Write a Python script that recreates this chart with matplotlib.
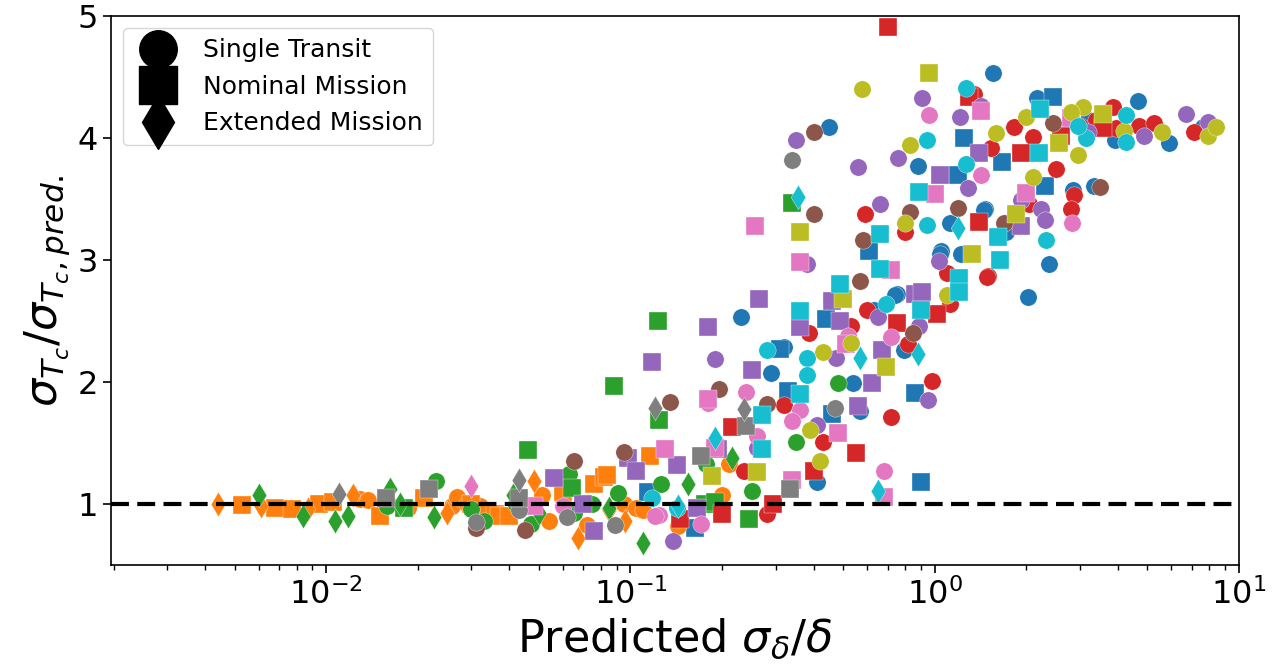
import numpy as np
import matplotlib
matplotlib.use("Agg")
import matplotlib.pyplot as plt
from matplotlib.lines import Line2D

# (predicted sigma_delta/delta, sigma_Tc/sigma_Tc,pred)
# one colour per system, marker = single transit / nominal / extended mission
blue_single = [(1.55,4.53),(0.45,4.09),(0.88,3.77),(1.46,3.42),(1.12,3.30),(1.05,3.07),(1.04,3.05),
               (1.22,3.05),(0.75,2.72),(0.74,2.71),(0.63,2.59),(0.79,2.26),(0.32,2.29),(0.29,2.07),
               (0.23,2.53),(0.54,1.99),(0.57,1.76),(0.41,1.18),(2.17,4.33),(4.65,4.30),(5.9,3.96),
               (7.6,4.09),(3.9,3.98),(2.84,3.57),(3.33,3.61),(1.45,3.41),(1.71,3.23),(2.02,2.70),
               (2.37,2.97),(3.2,4.15)]
blue_nominal = [(1.25,4.00),(1.19,3.70),(0.61,3.07),(0.44,2.52),(0.31,2.27),(0.33,1.93),(0.46,1.74),
                (0.86,1.91),(0.90,1.18),(0.114,1.10),(0.163,0.80),(2.44,4.34),(1.67,3.80),(2.3,3.61)]
blue_extended = []

orange_single = [(0.0129,1.04),(0.0137,1.03),(0.0185,0.97),(0.026,0.98),(0.027,1.06),(0.029,1.0),
                 (0.032,0.98),(0.051,1.07),(0.054,0.86),(0.06,1.04),(0.072,0.83),(0.095,1.0),
                 (0.104,0.97),(0.11,0.95),(0.143,0.82),(0.2,1.07),(0.21,1.33)]
orange_nominal = [(0.0053,0.99),(0.0068,0.97),(0.0077,0.96),(0.0095,1.0),(0.0105,1.02),(0.015,0.9),
                  (0.021,1.05),(0.03,1.0),(0.036,0.92),(0.037,0.9),(0.04,0.9),(0.06,1.1),(0.076,1.16),
                  (0.082,1.22),(0.084,1.24),(0.116,1.39)]
orange_extended = [(0.0044,1.0),(0.0061,0.98),(0.0087,0.96),(0.0122,1.07),(0.025,0.93),(0.048,1.19),
                   (0.067,0.72),(0.085,0.95),(0.096,0.86)]

green_single = [(0.0158,0.98),(0.023,1.19),(0.03,0.96),(0.033,0.86),(0.042,1.0),(0.047,0.84),
                (0.063,1.25),(0.065,0.93),(0.075,1.0),(0.091,1.09),(0.126,1.16),(0.177,1.33),
                (0.25,1.11),(0.35,1.51),(0.48,1.99)]
green_nominal = [(0.018,0.97),(0.046,1.44),(0.064,1.13),(0.088,1.97),(0.124,1.69),(0.123,2.5),
                 (0.176,1.0),(0.19,1.02),(0.246,0.88),(0.34,3.47)]
green_extended = [(0.006,1.07),(0.0084,0.9),(0.0107,0.86),(0.0118,0.9),(0.0162,1.12),(0.0175,1.0),
                  (0.0226,0.89),(0.041,1.07),(0.05,0.93),(0.085,0.97),(0.11,0.68),(0.155,1.16),
                  (0.216,1.38)]

red_single = [(1.35,4.36),(1.53,3.92),(0.59,3.38),(0.80,3.23),(1.1,2.89),(1.5,2.87),(1.12,2.64),
              (0.6,2.59),(0.385,2.40),(0.53,2.46),(0.82,2.31),(0.98,2.01),(0.32,1.81),(0.72,1.71),
              (0.43,1.51),(0.237,1.27),(0.28,0.92),(3.85,4.25),(3.38,4.15),(3.93,4.08),(4.7,4.1),
              (5.25,4.12),(7.1,4.05),(2.1,4.01),(1.82,4.09),(2.5,3.75),(2.87,3.53),(2.8,3.42),
              (2.04,3.46),(1.49,2.86),(3.0,4.1)]
red_nominal = [(0.70,4.91),(1.3,4.34),(1.40,3.31),(1.02,2.56),(0.75,2.48),(0.215,1.63),(0.55,1.42),
               (0.40,1.27),(0.145,0.88),(0.2,0.92),(0.295,1.0),(3.57,4.08),(2.6,4.02),(1.92,3.88)]
red_extended = []

purple_single = [(0.91,4.33),(1.21,4.17),(1.42,4.26),(0.35,3.98),(0.56,3.76),(0.76,3.84),(1.29,3.59),
                 (0.66,3.46),(0.38,2.97),(1.03,2.99),(1.2,2.74),(0.65,2.53),(0.89,2.46),(0.475,2.20),
                 (0.19,2.19),(0.95,1.85),(0.41,1.65),(0.26,1.46),(0.138,0.70),(4.87,4.02),(6.7,4.2),
                 (7.9,4.13),(1.92,3.49),(2.23,3.42),(2.3,3.33),(3.2,4.05)]
purple_nominal = [(1.04,3.70),(1.40,3.88),(0.265,2.68),(0.46,2.66),(0.86,2.72),(0.91,2.74),(0.18,2.45),
                  (0.36,2.45),(0.49,2.50),(0.67,2.26),(0.118,2.16),(0.25,2.10),(0.62,1.99),(0.56,1.80),
                  (0.098,1.38),(0.104,1.27),(0.142,1.32),(0.194,1.45),(0.056,1.21),(0.07,1.0),
                  (0.076,0.78),(1.92,3.28),(0.165,0.97)]
purple_extended = []

brown_single = [(0.40,4.05),(0.40,3.38),(0.83,3.39),(1.19,3.43),(0.58,3.16),(0.57,2.83),(0.195,1.94),
                (0.135,1.84),(0.28,1.82),(0.095,1.43),(0.065,1.35),(0.045,0.79),(0.031,0.80),
                (2.44,4.12),(3.5,3.6),(1.69,3.3),(0.85,2.4)]
brown_nominal = []
brown_extended = []

pink_single = [(0.96,4.19),(1.42,3.70),(0.72,2.37),(0.24,1.92),(0.36,1.77),(0.34,1.68),(0.26,1.56),
               (0.68,1.27),(0.124,0.91),(0.17,0.84),(0.12,0.90),(2.82,3.3),(0.18,1.83),(0.06,0.98),
               (0.52,2.38)]
pink_nominal = [(1.42,4.22),(1.0,3.54),(0.256,3.28),(0.36,2.98),(0.72,2.92),(0.18,1.86),(0.51,2.31),
                (0.48,1.58),(0.34,1.20),(0.68,1.06),(0.19,1.46),(0.13,1.45),(0.048,0.98),(2.8,4.16),
                (1.99,3.55)]
pink_extended = [(0.03,1.15)]

gray_single = [(0.34,3.82),(0.47,1.79),(0.089,0.83),(0.062,0.89),(0.031,0.85),(0.043,0.95)]
gray_nominal = [(0.24,1.64),(0.17,1.39),(0.335,1.12),(0.0157,1.05),(0.0218,1.12),(0.043,1.05)]
gray_extended = [(0.12,1.79),(0.237,1.78),(0.011,1.08),(0.043,1.2)]

olive_single = [(0.575,4.40),(0.83,3.94),(0.80,3.30),(1.1,2.71),(0.43,2.25),(0.39,1.61),(0.42,1.35),
                (2.0,4.17),(3.07,4.25),(2.8,4.21),(4.2,4.06),(5.6,4.05),(7.9,4.02),(8.4,4.09),
                (2.95,3.86),(2.1,3.68),(1.59,4.04),(0.53,2.32)]
olive_nominal = [(0.96,4.53),(0.36,3.23),(1.33,3.05),(0.50,2.68),(0.69,2.12),(0.185,1.23),(0.26,1.26),
                 (3.57,4.2),(2.56,3.96),(1.85,3.38)]
olive_extended = []

cyan_single = [(1.27,4.41),(0.94,3.98),(1.27,3.79),(0.94,3.29),(0.69,2.64),(0.28,2.26),(0.38,2.20),
               (0.38,2.06),(0.142,0.97),(4.25,4.19),(3.14,4.0),(4.25,3.97),(2.95,4.1),(2.32,3.16),
               (0.118,1.05)]
cyan_nominal = [(0.89,3.56),(0.66,3.21),(0.66,2.93),(1.2,2.85),(1.2,2.74),(0.49,2.80),(0.90,2.59),
                (0.36,2.58),(0.36,1.90),(0.27,1.73),(0.27,1.45),(2.22,4.24),(2.2,3.88),(1.62,3.19),
                (1.64,3.0)]
cyan_extended = [(0.355,3.52),(1.19,3.26),(0.88,2.23),(0.57,2.20),(0.65,1.11),(0.19,1.54),(0.143,0.98)]

groups = [
    ("C0", blue_single, blue_nominal, blue_extended),
    ("C1", orange_single, orange_nominal, orange_extended),
    ("C2", green_single, green_nominal, green_extended),
    ("C3", red_single, red_nominal, red_extended),
    ("C4", purple_single, purple_nominal, purple_extended),
    ("C5", brown_single, brown_nominal, brown_extended),
    ("C6", pink_single, pink_nominal, pink_extended),
    ("C7", gray_single, gray_nominal, gray_extended),
    ("C8", olive_single, olive_nominal, olive_extended),
    ("C9", cyan_single, cyan_nominal, cyan_extended),
]
markers = ["o", "s", "d"]
labels = ["Single Transit", "Nominal Mission", "Extended Mission"]

fig = plt.figure(figsize=(12.84, 6.72), dpi=100)
ax = fig.add_axes([0.0864, 0.1592, 0.8785, 0.817])

for c, single, nominal, extended in groups:
    for pts, m in zip([single, nominal, extended], markers):
        if len(pts) == 0:
            continue
        arr = np.array(pts)
        ax.scatter(arr[:, 0], arr[:, 1], marker=m, s=155, color=c,
                   edgecolors="white", linewidths=0.25, zorder=2)

ax.axhline(1.0, color="k", lw=3, dashes=(4.3, 2.0), zorder=5)

ax.set_xscale("log")
ax.set_xlim(1.96e-3, 10)
ax.set_ylim(0.5, 5)
ax.set_yticks([1, 2, 3, 4, 5])
ax.tick_params(axis="both", which="major", labelsize=23, length=6, width=1.2)
ax.tick_params(axis="both", which="minor", length=3.5, width=1.0)
for sp in ax.spines.values():
    sp.set_linewidth(1.2)

ax.set_xlabel(r"Predicted $\sigma_\delta/\delta$", fontsize=32)
ax.set_ylabel(r"$\sigma_{T_c}/\sigma_{T_c,pred.}$", fontsize=32)

handles = [Line2D([], [], ls="", marker=m, color="k", markersize=27) for m in markers]
ax.legend(handles, labels, loc="upper left", fontsize=18)

fig.savefig("out.png", dpi=100)
